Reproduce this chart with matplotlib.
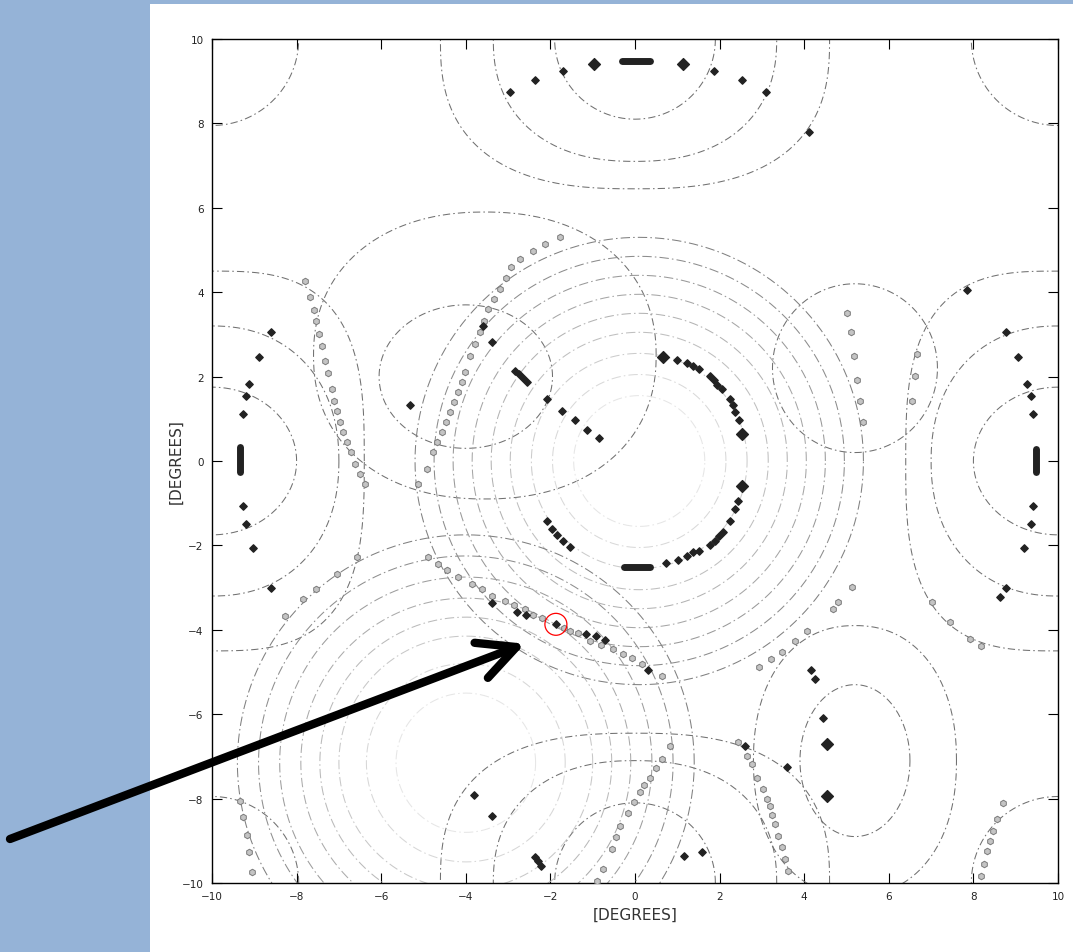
import numpy as np
import matplotlib.pyplot as plt
from matplotlib.patches import Rectangle, Circle

# ---- background dash-dot contours: centre + (rx, ry, squareness) ----
edge_centres = [(0, 10), (0, -10)]
edge_rings = [(1.9, 1.9, 2.0), (3.35, 2.9, 2.3), (4.6, 3.55, 2.6)]
corner_centres = [(-10, 10), (10, 10), (-10, -10), (10, -10)]
corner_rings = [(2.05, 2.05, 2.0)]
side_centres = [(-10, 0), (10, 0)]
side_rings = [(2.0, 1.75, 2.0), (3.0, 3.2, 2.2), (3.6, 4.5, 3.0)]
upper_left_centres = [(-4.0, 2.0), (-3.55, 2.5)]
upper_left_rings = [(2.05, 1.7, 2.0), (4.05, 3.4, 2.2)]
right_mid_centre = (5.2, 2.2)
right_mid_rings = [(1.95, 2.0, 2.0)]
low_right_centre = (5.2, -7.1)
low_right_rings = [(1.3, 1.8, 2.0), (2.4, 3.2, 2.2)]

# ---- concentric (fainter) contour systems ----
central_centre = (0.1, 0.0)
central_radii = [1.55, 2.05, 2.55, 3.05, 3.5, 3.95, 4.4, 4.85, 5.3]
lowleft_centre = (-4.0, -7.15)
lowleft_radii = [1.65, 2.35, 3.0, 3.45, 3.9, 4.4, 4.9, 5.4]

# ---- dark diamond markers ----
dark_x = [-2.95, -2.36, -1.7, 1.87, 2.53, 3.1, 4.11,
          0.99, 1.24, 1.38, 1.51, 1.77, 1.86, 1.95, 2.05, 2.25, 2.31, 2.36, 2.45,
          2.44, 2.36, 2.25, 2.08, 1.98, 1.88, 1.77, 1.51, 1.38, 1.24, 1.02, 0.73,
          -3.59, -3.37, -2.84, -2.75, -2.65, -2.56, -2.09, -1.72, -1.42, -1.14, -0.85,
          -5.32, -2.09, -1.97, -1.85, -1.7, -1.54,
          -3.37, -2.8, -2.58, -1.87, -1.16, -0.92, -0.71, 0.30,
          -8.61, -8.9, -9.12, -9.2, -9.27, -9.27, -9.2, -9.04, -8.61,
          7.84, 8.77, 9.06, 9.27, 9.35, 9.42, 9.42, 9.35, 9.2, 8.77, 8.63,
          4.15, 4.25, 4.45, 3.6, 2.6, 1.16, 1.59,
          -3.81, -3.37, -2.36, -2.3, -2.23]
dark_y = [8.74, 9.03, 9.24, 9.24, 9.03, 8.74, 7.8,
          2.4, 2.32, 2.26, 2.18, 2.01, 1.91, 1.81, 1.71, 1.47, 1.33, 1.17, 0.96,
          -0.94, -1.14, -1.41, -1.68, -1.78, -1.9, -2.0, -2.13, -2.16, -2.26, -2.35, -2.42,
          3.19, 2.83, 2.14, 2.05, 1.96, 1.88, 1.47, 1.18, 0.96, 0.74, 0.54,
          1.33, -1.41, -1.61, -1.75, -1.9, -2.04,
          -3.36, -3.59, -3.64, -3.86, -4.1, -4.15, -4.24, -4.95,
          3.06, 2.47, 1.82, 1.55, 1.11, -1.06, -1.49, -2.07, -3.01,
          4.06, 3.05, 2.46, 1.82, 1.53, 1.11, -1.06, -1.49, -2.06, -3.01, -3.23,
          -4.95, -5.17, -6.1, -7.26, -6.75, -9.35, -9.27,
          -7.91, -8.42, -9.38, -9.48, -9.59]
big_dark_x = [-0.97, 1.13, 0.67, 2.52, 2.52, 4.53, 4.53]
big_dark_y = [9.4, 9.4, 2.46, 0.64, -0.59, -6.71, -7.95]
bar_dark_x = [[-0.3, 0.35], [-0.25, 0.35], [-9.34, -9.34], [9.48, 9.48]]
bar_dark_y = [[9.48, 9.48], [-2.5, -2.5], [0.33, -0.26], [0.28, -0.26]]

# ---- grey (light) markers along the arcs ----
grey_x = [-1.77, -2.13, -2.41, -2.72, -2.92, -3.05, -3.19, -3.33, -3.47, -3.57, -3.66,
          -3.78, -3.9, -4.02, -4.1, -4.18, -4.28, -4.37, -4.47, -4.57, -4.67, -4.77,
          -4.92, -5.12,
          -7.8, -7.68, -7.6, -7.55, -7.47, -7.41, -7.33, -7.25, -7.17, -7.11, -7.04,
          -6.97, -6.9, -6.82, -6.72, -6.62, -6.5, -6.38,
          -8.27, -7.84, -7.53, -7.05, -6.58,
          -4.89, -4.65, -4.45, -4.18, -3.86, -3.62, -3.39, -3.07, -2.85, -2.6, -2.4,
          -2.21, -1.69, -1.54, -1.34, -1.06, -0.8, -0.51, -0.28, -0.08, 0.16, 0.65,
          0.83, 0.63, 0.5, 0.35, 0.22, 0.12, -0.02, -0.16, -0.35, -0.45, -0.55, -0.75,
          -0.9,
          2.44, 2.64, 2.76, 2.88, 3.02, 3.11, 3.19, 3.25, 3.3, 3.38, 3.47, 3.55, 3.62,
          2.94, 3.21, 3.47, 3.78, 4.07, 4.69, 4.81, 5.14,
          7.01, 7.45, 7.92, 8.19,
          5.02, 5.1, 5.18, 5.26, 5.32, 5.4,
          6.67, 6.62, 6.56,
          -9.34, -9.26, -9.18, -9.12, -9.05,
          8.69, 8.56, 8.47, 8.39, 8.32, 8.25, 8.18]
grey_y = [5.3, 5.14, 4.98, 4.79, 4.59, 4.33, 4.08, 3.84, 3.6, 3.32, 3.05,
          2.78, 2.5, 2.1, 1.87, 1.63, 1.39, 1.15, 0.92, 0.68, 0.45, 0.21,
          -0.19, -0.55,
          4.27, 3.88, 3.59, 3.32, 3.01, 2.73, 2.38, 2.08, 1.71, 1.43, 1.18,
          0.92, 0.68, 0.46, 0.21, -0.07, -0.31, -0.55,
          -3.67, -3.27, -3.03, -2.68, -2.28,
          -2.28, -2.44, -2.58, -2.76, -2.91, -3.03, -3.19, -3.31, -3.41, -3.51, -3.65,
          -3.73, -3.96, -4.04, -4.08, -4.26, -4.36, -4.45, -4.57, -4.68, -4.81, -5.1,
          -6.75, -7.06, -7.28, -7.5, -7.68, -7.85, -8.09, -8.33, -8.64, -8.9, -9.19,
          -9.67, -9.95,
          -6.67, -6.98, -7.18, -7.5, -7.77, -8.01, -8.17, -8.4, -8.6, -8.88, -9.15,
          -9.43, -9.71,
          -4.89, -4.69, -4.52, -4.26, -4.04, -3.51, -3.35, -2.99,
          -3.35, -3.82, -4.22, -4.38,
          3.51, 3.05, 2.5, 1.93, 1.41, 0.92,
          2.54, 2.01, 1.43,
          -8.05, -8.44, -8.86, -9.27, -9.75,
          -8.1, -8.48, -8.76, -9.0, -9.23, -9.55, -9.83]

ticks = [-10, -8, -6, -4, -2, 0, 2, 4, 6, 8, 10]
highlight = (-1.87, -3.87)
arrow_tip = (-2.6, -4.33)


def ring(cx, cy, rx, ry, n):
    t = np.linspace(0, 2 * np.pi, 721)
    c, s = np.cos(t), np.sin(t)
    return (cx + rx * np.sign(c) * np.abs(c) ** (2.0 / n),
            cy + ry * np.sign(s) * np.abs(s) ** (2.0 / n))


fig = plt.figure(figsize=(10.73, 9.53), dpi=100, facecolor='#95b3d7')
fig.patches.append(Rectangle((150 / 1073, 0), 1, 948 / 953, transform=fig.transFigure,
                             facecolor='white', edgecolor='none', zorder=-10))
ax = fig.add_axes([212 / 1073, 69 / 953, 846 / 1073, 844 / 953])

dashdot = (0, (7, 3, 1.5, 3))
bg = dict(color='#707070', lw=0.75, ls=dashdot)

for cx, cy in edge_centres:
    for rx, ry, n in edge_rings:
        ax.plot(*ring(cx, cy, rx, ry, n), **bg)
for cx, cy in corner_centres:
    for rx, ry, n in corner_rings:
        ax.plot(*ring(cx, cy, rx, ry, n), **bg)
for cx, cy in side_centres:
    for rx, ry, n in side_rings:
        ax.plot(*ring(cx, cy, rx, ry, n), **bg)
for (cx, cy), (rx, ry, n) in zip(upper_left_centres, upper_left_rings):
    ax.plot(*ring(cx, cy, rx, ry, n), **bg)
for rx, ry, n in right_mid_rings:
    ax.plot(*ring(*right_mid_centre, rx, ry, n), **bg)
for rx, ry, n in low_right_rings:
    ax.plot(*ring(*low_right_centre, rx, ry, n), **bg)

# fainter concentric systems, darker outward
for centre, radii in [(central_centre, central_radii), (lowleft_centre, lowleft_radii)]:
    shades = np.linspace(0.9, 0.5, len(radii))
    for r, g in zip(radii, shades):
        ax.plot(*ring(centre[0], centre[1], r, r, 2.0), color=str(g), lw=0.75,
                ls=(0, (9, 3, 1.5, 3)))

ax.scatter(grey_x, grey_y, marker='h', s=22, facecolor='#c4c4c4',
           edgecolor='#7a7a7a', linewidths=0.7, zorder=3)
ax.scatter(dark_x, dark_y, marker='D', s=14, color='#222222', zorder=4)
ax.scatter(big_dark_x, big_dark_y, marker='D', s=36, color='#222222', zorder=4)
for bx, by in zip(bar_dark_x, bar_dark_y):
    ax.plot(bx, by, color='#222222', lw=5, solid_capstyle='round', zorder=4)

ax.add_patch(Circle(highlight, 0.26, fill=False, edgecolor='red', lw=0.9, zorder=5))

ax.set_xlim(-10, 10)
ax.set_ylim(-10, 10)
ax.set_xticks(ticks)
ax.set_yticks(ticks)
ax.tick_params(direction='in', length=7, width=0.8, top=True, right=True,
               labelsize=7.5, labelcolor='#222222', pad=6)
for sp in ax.spines.values():
    sp.set_linewidth(1.0)
ax.set_xlabel('[DEGREES]', fontsize=11, color='#333333', labelpad=4)
ax.set_ylabel('[DEGREES]', fontsize=11, color='#333333', labelpad=-1)

ax.annotate('', xy=arrow_tip, xycoords='data', xytext=(10, 113),
            textcoords='figure pixels', annotation_clip=False,
            arrowprops=dict(arrowstyle='->, head_length=0.9, head_width=0.45',
                            lw=6, color='black', mutation_scale=30,
                            shrinkA=0, shrinkB=0, capstyle='round'))

fig.savefig('out.png', dpi=100, facecolor=fig.get_facecolor())
